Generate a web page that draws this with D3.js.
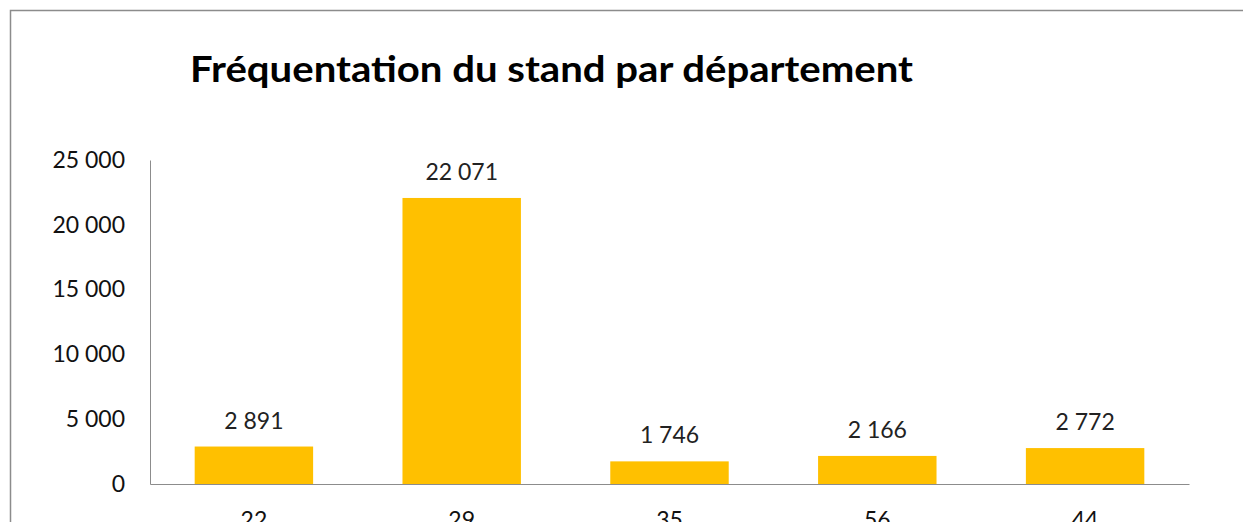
<!DOCTYPE html>
<html lang="fr">
<head>
<meta charset="UTF-8">
<title>Fréquentation du stand par département</title>
<script src="https://d3js.org/d3.v7.min.js"></script>
<style>
  body { margin: 0; background: #fff; }
  svg { display: block; font-family: Lato, "Open Sans", sans-serif; }
</style>
</head>
<body>
<div id="chart"></div>
<script>
const departements = ["22", "29", "35", "56", "44"];
const visites = [2891, 22071, 1746, 2166, 2772];
const yTicks = [0, 5000, 10000, 15000, 20000, 25000];

const width = 1243, height = 522;
const margin = { left: 150, right: 54, top: 160, bottom: 38 };

const fr = d3.formatLocale({ decimal: ",", thousands: "\u00a0", grouping: [3], currency: ["", " €"] });
const fmt = fr.format(",d");

const svg = d3.select("#chart").append("svg")
    .attr("width", width)
    .attr("height", height);

// cadre du graphique
svg.append("rect")
    .attr("x", 10.5).attr("y", 10.5)
    .attr("width", 1260).attr("height", 560)
    .attr("fill", "none")
    .attr("stroke", "#8c8c8c")
    .attr("stroke-width", 1.5);

svg.append("text")
    .attr("x", 190).attr("y", 82)
    .attr("font-size", 37)
    .attr("font-weight", "bold")
    .attr("fill", "#000")
    .attr("textLength", 723)
    .attr("lengthAdjust", "spacingAndGlyphs")
    .text("Fréquentation du stand par département");

const x = d3.scaleBand()
    .domain(departements)
    .range([margin.left, width - margin.right])
    .paddingInner(0.43)
    .paddingOuter(0.215);

const y = d3.scaleLinear()
    .domain([0, 25000])
    .range([484, 160]);

// axe Y
const yAxis = svg.append("g")
    .attr("transform", `translate(${margin.left},0)`)
    .call(d3.axisLeft(y).tickValues(yTicks).tickSize(0).tickPadding(25).tickFormat(fmt));
yAxis.select(".domain").attr("stroke", "#8c8c8c");
yAxis.selectAll("text").attr("font-size", 23).attr("fill", "#111").attr("font-family", "Lato, sans-serif");

// axe X
const xAxis = svg.append("g")
    .attr("transform", `translate(0,${y(0)})`)
    .call(d3.axisBottom(x).tickSize(0).tickPadding(28));
xAxis.select(".domain").attr("stroke", "#8c8c8c");
xAxis.selectAll("text").attr("font-size", 23).attr("fill", "#111").attr("font-family", "Lato, sans-serif");

// barres
svg.selectAll(".bar")
    .data(visites)
    .enter().append("rect")
    .attr("class", "bar")
    .attr("x", (d, i) => x(departements[i]))
    .attr("width", x.bandwidth())
    .attr("y", d => y(d))
    .attr("height", d => y(0) - y(d))
    .attr("fill", "#FFC000");

// étiquettes de données
svg.selectAll(".lbl")
    .data(visites)
    .enter().append("text")
    .attr("class", "lbl")
    .attr("x", (d, i) => x(departements[i]) + x.bandwidth() / 2)
    .attr("y", d => y(d) - 18)
    .attr("text-anchor", "middle")
    .attr("font-size", 23)
    .attr("fill", "#222")
    .text(d => fmt(d));
</script>
</body>
</html>
